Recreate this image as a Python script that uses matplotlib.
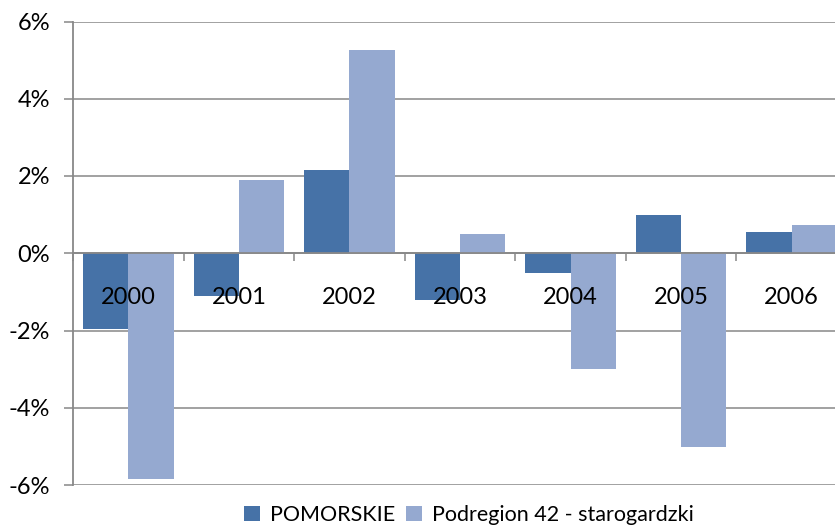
import matplotlib
matplotlib.use("Agg")
import matplotlib.pyplot as plt
import numpy as np
from matplotlib.ticker import FixedLocator, FuncFormatter
from matplotlib.patches import Patch

plt.rcParams['font.family'] = ['Lato', 'DejaVu Sans']

years = ["2000", "2001", "2002", "2003", "2004", "2005", "2006"]
pomorskie = [-1.96, -1.10, 2.16, -1.20, -0.50, 0.99, 0.55]
starogardzki = [-5.84, 1.90, 5.27, 0.50, -2.99, -5.01, 0.73]
series_names = ["POMORSKIE", "Podregion 42 - starogardzki"]
yticks = [-6, -4, -2, 0, 2, 4, 6]

dark = "#4672A7"
light = "#95A9D0"
grid = "#888888"

W, H = 835, 527
fig = plt.figure(figsize=(W / 100, H / 100), dpi=100)
ax = fig.add_axes([73 / W, (H - 485) / H, (847 - 73) / W, (485 - 21.5) / H])

x = np.arange(len(years))
bw = 0.41
ax.bar(x - bw / 2, pomorskie, width=bw, color=dark, zorder=3)
ax.bar(x + bw / 2, starogardzki, width=bw, color=light, zorder=3)

ax.set_xlim(-0.5, len(years) - 0.5)
ax.set_ylim(-6, 6)
ax.set_axisbelow(True)

ax.yaxis.set_major_locator(FixedLocator(yticks))
ax.yaxis.set_major_formatter(FuncFormatter(lambda v, p: f"{v:.0f}%"))
ax.yaxis.grid(True, color=grid, linewidth=1.1)
ax.tick_params(axis='y', length=6.5, width=1.1, color=grid, pad=10,
               labelsize=17, labelcolor="#000000")

ax.set_xticks(x)
ax.set_xticklabels(years)
ax.set_xticks(np.arange(-0.5, len(years)), minor=True)
ax.tick_params(axis='x', which='major', length=0, pad=24,
               labelsize=17, labelcolor="#000000")
ax.tick_params(axis='x', which='minor', length=6, width=1.1, color=grid,
               direction='out')
# year labels sit on top of the bars
ax.xaxis.set_zorder(5)

for s in ('top', 'right'):
    ax.spines[s].set_visible(False)
ax.spines['left'].set_color(grid)
ax.spines['left'].set_linewidth(1.3)
ax.spines['bottom'].set_position(('data', 0))
ax.spines['bottom'].set_color(grid)
ax.spines['bottom'].set_linewidth(1.3)
ax.spines['bottom'].set_zorder(4)

handles = [Patch(facecolor=dark), Patch(facecolor=light)]
fig.legend(handles, series_names, loc='center', bbox_to_anchor=(469 / W, 12 / H),
           ncol=2, frameon=False, fontsize=15.5, handlelength=0.75, handleheight=0.75,
           handletextpad=0.45, columnspacing=0.5, borderaxespad=0, borderpad=0)

fig.savefig("out.png", dpi=100)
